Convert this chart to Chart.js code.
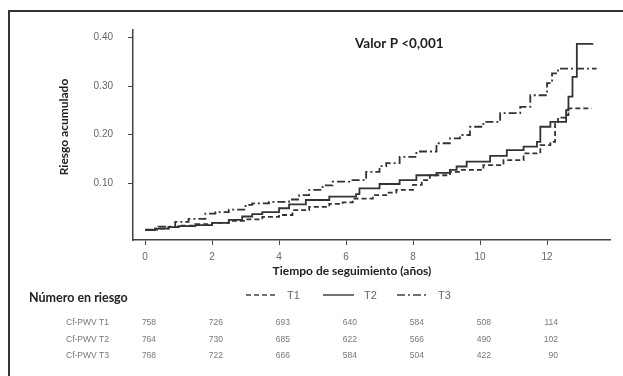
<!DOCTYPE html>
<html>
<head>
<meta charset="utf-8">
<script src="https://cdn.jsdelivr.net/npm/chart.js@4/dist/chart.umd.min.js"></script>
<style>
  html, body { margin:0; padding:0; background:#fff; }
  #wrap { position:relative; width:623px; height:376px; overflow:hidden; }
  #frame { position:absolute; left:8px; top:10px; width:640px; height:400px;
           border-left:2.5px solid #333; border-top:2.5px solid #333; }
  canvas { position:absolute; left:0; top:0; }
</style>
</head>
<body>
<div id="wrap">
  <div id="frame"></div>
  <canvas id="km" width="623" height="376"></canvas>
</div>
<script>
// follow-up time (years) and cumulative risk
const timeT1 = [0, 0.3, 0.7, 1.0, 1.5, 2.0, 2.5, 3.0, 3.5, 4.0, 4.4, 4.9, 5.5, 5.9, 6.2, 6.8, 7.2, 7.5, 8.0, 8.26, 8.5, 9.1, 9.4, 10.1, 10.7, 11.3, 11.8, 12.1, 12.24, 12.33, 12.54, 12.64, 13.33]
const riskT1 = [0.003, 0.006, 0.009, 0.012, 0.015, 0.018, 0.022, 0.025, 0.030, 0.034, 0.044, 0.051, 0.057, 0.060, 0.068, 0.075, 0.080, 0.086, 0.096, 0.106, 0.116, 0.123, 0.127, 0.137, 0.147, 0.161, 0.178, 0.185, 0.223, 0.235, 0.240, 0.254, 0.254]

const timeT2 = [0, 0.3, 0.7, 1.0, 1.5, 2.0, 2.5, 2.9, 3.2, 3.5, 4.0, 4.3, 4.8, 5.5, 6.3, 6.4, 7.0, 7.6, 8.1, 8.7, 9.1, 9.3, 9.6, 10.3, 10.8, 11.3, 11.7, 11.8, 12.1, 12.57, 12.64, 12.76, 12.89, 13.38]
const riskT2 = [0.003, 0.006, 0.009, 0.011, 0.013, 0.018, 0.024, 0.031, 0.036, 0.040, 0.048, 0.056, 0.065, 0.072, 0.077, 0.089, 0.098, 0.106, 0.116, 0.121, 0.127, 0.134, 0.144, 0.156, 0.168, 0.175, 0.185, 0.216, 0.226, 0.250, 0.278, 0.319, 0.387, 0.387]

const timeT3 = [0, 0.4, 0.9, 1.3, 1.8, 2.1, 2.5, 3.0, 3.2, 3.7, 4.3, 4.6, 4.9, 5.3, 5.6, 6.1, 6.6, 7.0, 7.2, 7.6, 8.1, 8.7, 9.1, 9.4, 9.7, 10.1, 10.6, 11.2, 11.5, 12.0, 12.15, 12.33, 13.48]
const riskT3 = [0.004, 0.010, 0.020, 0.026, 0.037, 0.040, 0.045, 0.055, 0.058, 0.061, 0.066, 0.075, 0.086, 0.095, 0.103, 0.106, 0.123, 0.135, 0.141, 0.154, 0.165, 0.182, 0.192, 0.199, 0.216, 0.226, 0.244, 0.257, 0.281, 0.306, 0.326, 0.336, 0.336]

const xTicks = [0, 2, 4, 6, 8, 10, 12]
const yTicks = [0.10, 0.20, 0.30, 0.40]

const groups  = ['T1', 'T2', 'T3']
const riskRowLabels = ['Cf-PWV T1', 'Cf-PWV T2', 'Cf-PWV T3']
const atRiskT1 = [758, 726, 693, 640, 584, 508, 114]
const atRiskT2 = [764, 730, 685, 622, 566, 490, 102]
const atRiskT3 = [768, 722, 666, 584, 504, 422, 90]

const pts = (t, r) => t.map((x, i) => ({ x, y: r[i] }))
const dashes = [[5, 3], [], [8, 3, 2, 3]]
const BOLD = 'bold 12px Lato, "Liberation Sans", sans-serif'

const textPlugin = {
  id: 'texts',
  afterDraw(chart) {
    const { ctx, scales: { x } } = chart
    ctx.save()
    ctx.fillStyle = '#222'
    ctx.textBaseline = 'middle'

    ctx.font = 'bold 13.5px Lato, "Liberation Sans", sans-serif'
    ctx.textAlign = 'left'
    ctx.fillText('Valor P <0,001', 355, 44)

    ctx.font = BOLD
    ctx.textAlign = 'center'
    ctx.fillText('Tiempo de seguimiento (años)', 352, 271)

    ctx.save()
    ctx.translate(64, 127)
    ctx.rotate(-Math.PI / 2)
    ctx.fillText('Riesgo acumulado', 0, 0)
    ctx.restore()

    ctx.font = 'bold 12.5px Lato, "Liberation Sans", sans-serif'
    ctx.textAlign = 'left'
    ctx.fillText('Número en riesgo', 29, 298)

    // legend
    const legX = [246, 323, 397]
    chart.data.datasets.forEach((d, i) => {
      ctx.strokeStyle = '#444'
      ctx.lineWidth = 1.5
      ctx.setLineDash(d.borderDash)
      ctx.beginPath()
      ctx.moveTo(legX[i], 295); ctx.lineTo(legX[i] + 31, 295)
      ctx.stroke()
      ctx.setLineDash([])
      ctx.fillStyle = '#666'
      ctx.font = '11px "Liberation Sans", sans-serif'
      ctx.fillText(groups[i], legX[i] + 41, 296)
    })

    // numbers at risk
    const rows = [atRiskT1, atRiskT2, atRiskT3]
    const rowY = [323, 340, 356]
    ctx.fillStyle = '#777'
    ctx.font = '8.5px "Liberation Sans", sans-serif'
    rows.forEach((row, r) => {
      ctx.textAlign = 'left'
      ctx.fillText(riskRowLabels[r], 66, rowY[r])
      ctx.textAlign = 'right'
      row.forEach((n, j) => ctx.fillText(String(n), x.getPixelForValue(xTicks[j]) + 11, rowY[r]))
    })
    ctx.restore()
  }
}

new Chart(document.getElementById('km'), {
  type: 'line',
  data: {
    datasets: [
      { label: 'T1', data: pts(timeT1, riskT1), borderDash: dashes[0] },
      { label: 'T2', data: pts(timeT2, riskT2), borderDash: dashes[1] },
      { label: 'T3', data: pts(timeT3, riskT3), borderDash: dashes[2] },
    ].map(d => ({ ...d, stepped: true, borderColor: '#333', borderWidth: 1.8, pointRadius: 0, fill: false }))
  },
  options: {
    responsive: false, animation: false, devicePixelRatio: 1,
    layout: { padding: { left: 0, right: 13, top: 30, bottom: 106 } },
    plugins: { legend: { display: false }, tooltip: { enabled: false } },
    scales: {
      x: {
        type: 'linear', min: -0.36, max: 13.88,
        afterFit: s => { s.height = 30 },
        afterBuildTicks: s => { s.ticks = xTicks.map(v => ({ value: v })) },
        grid: { display: true, drawOnChartArea: false, drawTicks: true, tickLength: 5, color: '#444' },
        border: { display: true, color: '#444', width: 1.5 },
        ticks: { padding: 6, color: '#666', font: { family: '"Liberation Sans"', size: 10 }, callback: v => String(v) }
      },
      y: {
        type: 'linear', min: -0.0175, max: 0.4155,
        afterFit: s => { s.width = 133 },
        afterBuildTicks: s => { s.ticks = yTicks.map(v => ({ value: v })) },
        grid: { display: true, drawOnChartArea: false, drawTicks: true, tickLength: 5, color: '#444' },
        border: { display: true, color: '#444', width: 1.5 },
        ticks: { padding: 15, color: '#666', font: { family: '"Liberation Sans"', size: 10 }, callback: v => v.toFixed(2) }
      }
    }
  },
  plugins: [textPlugin]
})
</script>
</body>
</html>
